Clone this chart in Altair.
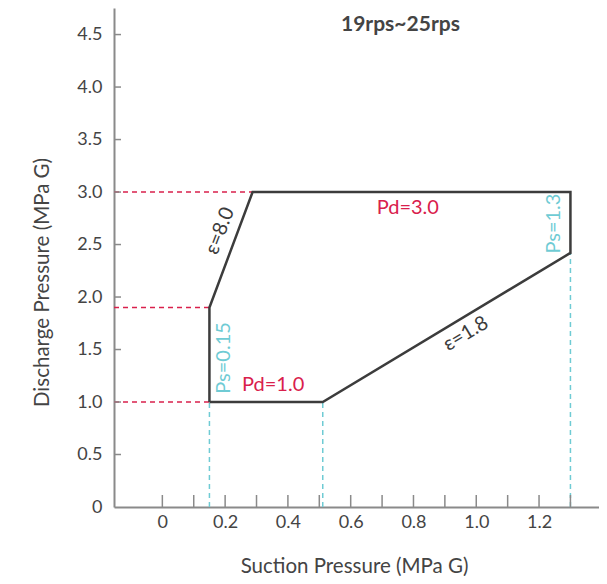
import altair as alt
import pandas as pd

# ---- data ----
poly_ps = [0.15, 0.15, 0.2875, 1.3, 1.3, 0.511, 0.15]
poly_pd = [1.0, 1.9, 3.0, 3.0, 2.42, 1.0, 1.0]

red_pd = [3.0, 1.9, 1.0]
red_ps_end = [0.2875, 0.15, 0.15]

cyan_ps = [0.15, 0.511, 1.3]
cyan_pd_end = [1.0, 1.0, 2.42]

labels = ["ε=8.0", "Pd=3.0", "Ps=1.3", "ε=1.8", "Ps=0.15", "Pd=1.0"]
label_ps = [0.184, 0.782, 1.247, 0.967, 0.195, 0.353]
label_pd = [2.63, 2.85, 2.70, 1.65, 1.42, 1.16]
label_angle = [291, 0, 270, 329, 270, 0]
label_kind = ["dark", "red", "cyan", "dark", "cyan", "red"]

x_label_values = [0, 0.2, 0.4, 0.6, 0.8, 1.0, 1.2, 1.4]
x_tick_values = [0, 0.1, 0.2, 0.3, 0.4, 0.5, 0.6, 0.7, 0.8, 0.9, 1.0, 1.1, 1.2, 1.3]
y_values = [0, 0.5, 1.0, 1.5, 2.0, 2.5, 3.0, 3.5, 4.0, 4.5]
y_tick_values = [0.5, 1.0, 1.5, 2.0, 2.5, 3.0, 3.5, 4.0, 4.5]

x_min, x_max = -0.154, 1.391
y_min, y_max = 0.0, 4.753

title_text = "19rps~25rps"
x_title = "Suction Pressure (MPa G)"
y_title = "Discharge Pressure (MPa G)"

DARK = "#3c3c3c"
RED = "#d9204c"
CYAN = "#6fcbd4"
AXIS = "#8a8a8a"
TXT = "#444444"
FONT = "Lato"

colors = {"dark": DARK, "red": RED, "cyan": CYAN}

xs = alt.Scale(domain=[x_min, x_max], nice=False, zero=False)
ys = alt.Scale(domain=[y_min, y_max], nice=False, zero=False)

xa = alt.Axis(values=x_label_values, title=x_title, grid=False, ticks=False, tickSize=0,
              labelExpr="datum.value == 0 ? '0' : format(datum.value, '.1f')",
              labelPadding=6, labelFontSize=18, labelColor=TXT, labelFont=FONT,
              domainColor=AXIS, domainWidth=2,
              titleFont=FONT, titleFontSize=20.5, titleFontWeight="normal", titleColor=TXT,
              titleX=240, titleY=59, titleBaseline="middle", titleAlign="center")
ya = alt.Axis(values=y_values, title=y_title, grid=False, ticks=False, tickSize=0,
              labelExpr="datum.value == 0 ? '0' : format(datum.value, '.1f')",
              labelPadding=12, labelFontSize=18, labelColor=TXT, labelFont=FONT,
              domainColor=AXIS, domainWidth=2,
              titleFont=FONT, titleFontSize=20.5, titleFontWeight="normal", titleColor=TXT,
              titleX=-72, titleY=274, titleAngle=270, titleBaseline="middle", titleAlign="center")

X = lambda f: alt.X(f, scale=xs, axis=xa)
Y = lambda f: alt.Y(f, scale=ys, axis=ya)

poly_df = pd.DataFrame({"ps": poly_ps, "pd": poly_pd, "o": list(range(len(poly_ps)))})
red_df = pd.DataFrame({"ps": [x_min] * len(red_pd), "ps2": red_ps_end, "pd": red_pd})
cyan_df = pd.DataFrame({"ps": cyan_ps, "pd": [0.0] * len(cyan_ps), "pd2": cyan_pd_end})
lab_df = pd.DataFrame({"label": labels, "ps": label_ps, "pd": label_pd,
                       "angle": label_angle, "color": [colors[k] for k in label_kind]})
xt_df = pd.DataFrame({"ps": x_tick_values})
yt_df = pd.DataFrame({"pd": y_tick_values})

red_lines = alt.Chart(red_df).mark_rule(color=RED, strokeWidth=1.5, strokeDash=[5, 4]).encode(
    x=X("ps:Q"), x2="ps2:Q", y=Y("pd:Q"))
cyan_lines = alt.Chart(cyan_df).mark_rule(color=CYAN, strokeWidth=1.5, strokeDash=[5, 4]).encode(
    x=X("ps:Q"), y=Y("pd:Q"), y2="pd2:Q")
poly = alt.Chart(poly_df).mark_line(color=DARK, strokeWidth=2.5, strokeJoin="miter").encode(
    x=X("ps:Q"), y=Y("pd:Q"), order="o:Q")
xticks = alt.Chart(xt_df).mark_rule(color=AXIS, strokeWidth=1.5).encode(
    x=X("ps:Q"), y=alt.value(487), y2=alt.value(499))
yticks = alt.Chart(yt_df).mark_rule(color=AXIS, strokeWidth=1.5).encode(
    y=Y("pd:Q"), x=alt.value(0), x2=alt.value(7))
texts = alt.Chart(lab_df).mark_text(font=FONT, fontSize=20, align="center", baseline="middle").encode(
    x=X("ps:Q"), y=Y("pd:Q"), text="label:N",
    angle=alt.Angle("angle:Q", scale=None), color=alt.Color("color:N", scale=None))

chart = alt.layer(red_lines, cyan_lines, poly, xticks, yticks, texts).properties(
    width=485, height=499,
    autosize=alt.AutoSizeParams(type="none"),
    padding={"left": 106, "top": 0, "right": 0, "bottom": 69},
    title=alt.TitleParams(title_text, anchor="start", orient="top", frame="group",
                          dx=227, dy=38, offset=0, baseline="middle",
                          font=FONT, fontSize=21, fontWeight="bold", color=TXT),
).configure_view(stroke=None)

chart.save("out.html", embed_options={"renderer": "svg", "actions": False})
